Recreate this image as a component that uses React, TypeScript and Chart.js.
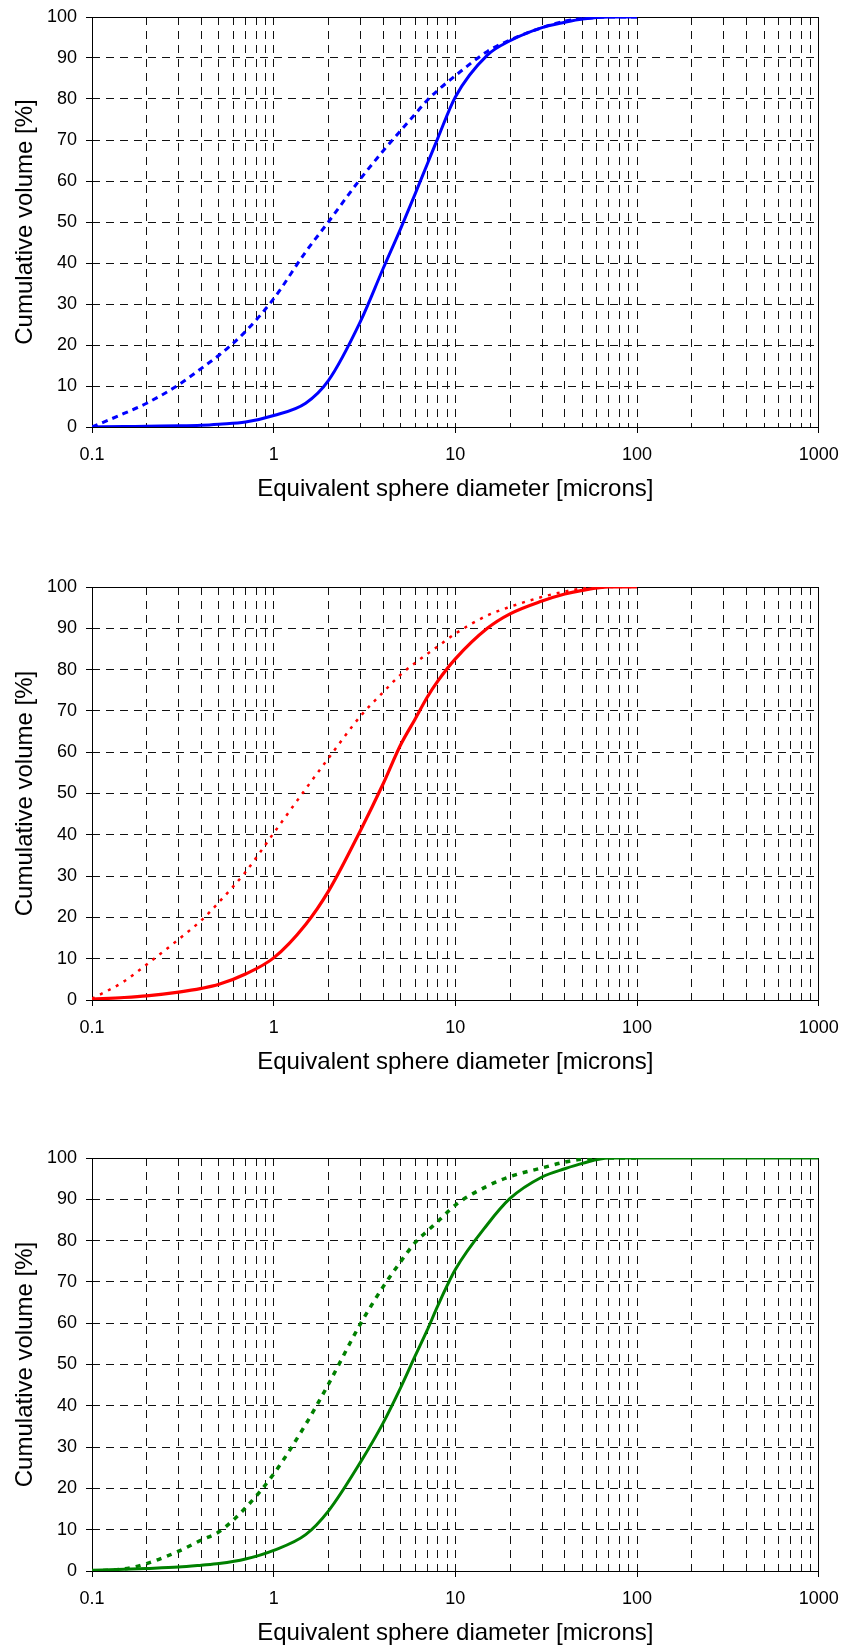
import React, { useEffect, useRef } from 'react';
import { Chart, registerables } from 'chart.js';

Chart.register(...registerables);

// ---- Data ----
const DIAMETERS = [0.1, 0.15, 0.2, 0.3, 0.4, 0.5, 0.7, 1, 1.5, 2, 3, 4, 5, 6, 7, 8, 10, 15, 20, 30, 40, 50, 70, 100, 1000];

const BLUE_SOLID = [0, 0.1, 0.2, 0.3, 0.45, 0.7, 1.2, 2.8, 5.8, 11.3, 25.7, 38.6, 48.4, 56.8, 64.1, 70.4, 80.5, 90.7, 94.2, 97.4, 98.7, 99.5, 100, 100, null];
const BLUE_DASHED = [0, 3.3, 5.8, 10.3, 14.3, 17.5, 23.3, 31.3, 42.7, 50, 60.5, 67.3, 72.3, 76.3, 79.7, 82.1, 85.7, 91.6, 94.4, 97.4, 99, 99.6, 100, 100, null];

const RED_SOLID = [0.2, 0.6, 1, 1.9, 2.8, 3.8, 6.3, 10.2, 18.3, 26.3, 41, 52.3, 61.8, 68.0, 73.3, 77.2, 82.6, 90, 93.5, 96.6, 98.3, 99.2, 100, 100, null];
const RED_DOTTED = [0.3, 4.5, 8.6, 14.7, 19.3, 23.7, 31, 40.4, 51.1, 58.5, 68.7, 74.5, 78.8, 81.6, 83.8, 85.6, 88.7, 93.1, 95.2, 97.6, 98.9, 99.6, 100, 100, null];

const GREEN_SOLID = [0.2, 0.4, 0.6, 0.95, 1.4, 1.8, 2.9, 5, 8.8, 14.5, 26.3, 35.8, 44.4, 52, 58.3, 64.2, 73, 83.9, 90.2, 95.4, 97.4, 98.7, 100, 100, 100];
const GREEN_DASHED = [0, 0.5, 1.8, 4.8, 7.5, 9.5, 15.3, 23.5, 35.5, 45.2, 59.8, 68.8, 74.9, 79.5, 82.3, 84.6, 88.6, 93.2, 95.5, 97.6, 99, 99.7, 100, 100, null];

const X_TICK_VALUES = [0.1, 1, 10, 100, 1000];
const X_TICK_LABELS = ['0.1', '1', '10', '100', '1000'];
const Y_MIN = 0;
const Y_MAX = 100;
const Y_STEP = 10;

const X_TITLE = 'Equivalent sphere diameter [microns]';
const Y_TITLE = 'Cumulative volume [%]';

// ---- Styling / layout ----
const FONT_FAMILY = "'Liberation Sans', Arial, Helvetica, sans-serif";
const TICK_FONT = { family: FONT_FAMILY, size: 18 };
const TITLE_FONT = { family: FONT_FAMILY, size: 24 };
const GRID_DASH = [8, 6];

type SeriesDef = { values: (number | null)[]; color: string; width: number; dash: number[] };

const CHARTS: { top: number; height: number; series: SeriesDef[] }[] = [
  {
    top: 0,
    height: 506,
    series: [
      { values: BLUE_DASHED, color: '#0000FF', width: 3, dash: [6, 5] },
      { values: BLUE_SOLID, color: '#0000FF', width: 3, dash: [] },
    ],
  },
  {
    top: 570,
    height: 509,
    series: [
      { values: RED_DOTTED, color: '#FF0000', width: 2.5, dash: [3, 6] },
      { values: RED_SOLID, color: '#FF0000', width: 3.2, dash: [] },
    ],
  },
  {
    top: 1141,
    height: 509,
    series: [
      { values: GREEN_DASHED, color: '#008000', width: 3.5, dash: [5, 6] },
      { values: GREEN_SOLID, color: '#008000', width: 3, dash: [] },
    ],
  },
];

function isDecade(v: number | undefined): boolean {
  if (v === undefined || v === null || !(v > 0)) return false;
  const l = Math.log10(v);
  return Math.abs(l - Math.round(l)) < 1e-9;
}

function gridValues(): number[] {
  const out: number[] = [];
  for (let d = 0; d < X_TICK_VALUES.length - 1; d++) {
    const base = X_TICK_VALUES[d];
    for (let k = 1; k <= 9; k++) out.push(k * base);
  }
  out.push(X_TICK_VALUES[X_TICK_VALUES.length - 1]);
  return out;
}

function labelFor(v: number): string {
  for (let i = 0; i < X_TICK_VALUES.length; i++) {
    if (Math.abs(Math.log10(v) - Math.log10(X_TICK_VALUES[i])) < 1e-9) return X_TICK_LABELS[i];
  }
  return '';
}

const boxPlugin = {
  id: 'plotBox',
  beforeDatasetsDraw(chart: any) {
    const { ctx, chartArea } = chart;
    const a = (p: number) => Math.round(p - 0.5) + 0.5;
    ctx.save();
    ctx.strokeStyle = '#000';
    ctx.lineWidth = 1;
    ctx.setLineDash([]);
    ctx.strokeRect(a(chartArea.left), a(chartArea.top), a(chartArea.right) - a(chartArea.left), a(chartArea.bottom) - a(chartArea.top));
    ctx.restore();
  },
};

function PsdChart({ top, height, series }: { top: number; height: number; series: SeriesDef[] }) {
  const ref = useRef<HTMLCanvasElement | null>(null);
  useEffect(() => {
    if (!ref.current) return;
    const xs = gridValues();
    const chart = new Chart(ref.current, {
      type: 'line',
      data: {
        datasets: series.map((s) => ({
          data: DIAMETERS.map((x, i) => ({ x, y: s.values[i] })),
          borderColor: s.color,
          backgroundColor: s.color,
          borderWidth: s.width,
          borderDash: s.dash,
          borderCapStyle: 'butt',
          pointRadius: 0,
          pointHoverRadius: 0,
          cubicInterpolationMode: 'monotone',
          fill: false,
          spanGaps: false,
        })),
      },
      options: {
        responsive: false,
        animation: false,
        devicePixelRatio: 1,
        events: [],
        layout: { padding: { top: 17, right: 25.3, bottom: 0, left: 0 } },
        plugins: { legend: { display: false }, tooltip: { enabled: false } },
        scales: {
          x: {
            type: 'logarithmic',
            min: X_TICK_VALUES[0],
            max: X_TICK_VALUES[X_TICK_VALUES.length - 1],
            afterBuildTicks: (scale: any) => {
              scale.ticks = xs.map((v) => ({ value: v, major: false }));
            },
            afterFit: (scale: any) => {
              scale.height = 79;
              scale.paddingLeft = 0;
              scale.paddingRight = 0;
              scale.paddingTop = 0;
              scale.paddingBottom = 0;
            },
            ticks: {
              autoSkip: false,
              maxRotation: 0,
              minRotation: 0,
              padding: 11.5,
              color: '#000',
              font: TICK_FONT,
              callback: (value: any) => labelFor(Number(value)),
            },
            grid: {
              color: '#111',
              lineWidth: 1,
              tickLength: 6,
              tickWidth: 1,
              tickBorderDash: [],
              tickColor: (c: any) => (isDecade(c.tick ? c.tick.value : undefined) ? '#000' : 'rgba(0,0,0,0)'),
            },
            border: { display: false, dash: GRID_DASH },
            title: {
              display: true,
              text: X_TITLE,
              color: '#000',
              font: TITLE_FONT,
              padding: { top: 0, bottom: 1.8 },
            },
          },
          y: {
            type: 'linear',
            min: Y_MIN,
            max: Y_MAX,
            afterFit: (scale: any) => {
              scale.width = 92;
              scale.paddingTop = 0;
              scale.paddingBottom = 0;
              scale.paddingLeft = 0;
              scale.paddingRight = 0;
            },
            ticks: {
              stepSize: Y_STEP,
              padding: 9,
              color: '#000',
              font: TICK_FONT,
            },
            grid: {
              color: '#111',
              lineWidth: 1,
              tickLength: 6,
              tickWidth: 1,
              tickBorderDash: [],
              tickColor: '#000',
            },
            border: { display: false, dash: GRID_DASH },
            title: {
              display: true,
              text: Y_TITLE,
              color: '#000',
              font: TITLE_FONT,
              padding: { top: 11, bottom: 0 },
            },
          },
        },
      },
      plugins: [boxPlugin],
    } as any);
    return () => chart.destroy();
  }, [series]);
  return (
    <canvas
      ref={ref}
      width={844}
      height={height}
      style={{ position: 'absolute', left: 0, top, width: 844, height, display: 'block' }}
    />
  );
}

export default function App() {
  return (
    <div style={{ position: 'absolute', left: 0, top: 0, width: 844, height: 1650, background: '#fff' }}>
      {CHARTS.map((c, i) => (
        <PsdChart key={i} top={c.top} height={c.height} series={c.series} />
      ))}
    </div>
  );
}
